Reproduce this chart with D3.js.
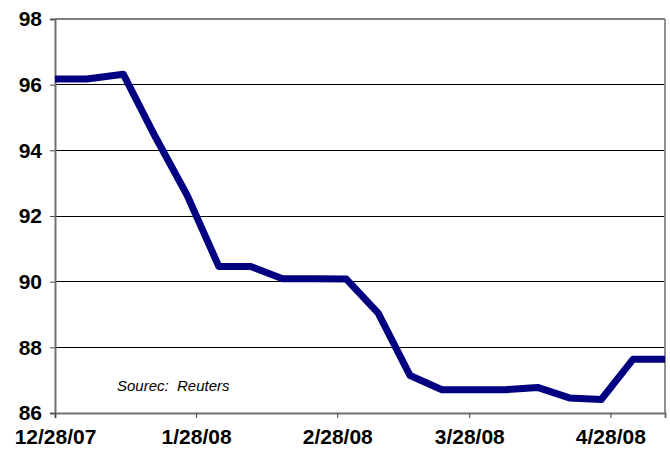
<!DOCTYPE html>
<html>
<head>
<meta charset="utf-8">
<script src="https://cdn.jsdelivr.net/npm/d3@7"></script>
<style>
  html, body { margin: 0; padding: 0; background: #fff; }
  svg { display: block; }
</style>
</head>
<body>
<svg id="chart" width="670" height="449"></svg>
<script>
// Weekly readings, 12/28/07 through 5/10/08
const dates = [
  "2007-12-28", "2008-01-04", "2008-01-12", "2008-01-19", "2008-01-26",
  "2008-02-02", "2008-02-09", "2008-02-16", "2008-02-23", "2008-03-01",
  "2008-03-08", "2008-03-15", "2008-03-22", "2008-03-29", "2008-04-05",
  "2008-04-12", "2008-04-19", "2008-04-26", "2008-05-03", "2008-05-10"
];
const values = [
  96.17, 96.17, 96.32, 94.42, 92.64,
  90.46, 90.46, 90.09, 90.09, 90.08,
  89.04, 87.14, 86.71, 86.71, 86.71,
  86.78, 86.46, 86.41, 87.64, 87.64
];
const yTicks = [86, 88, 90, 92, 94, 96, 98];
const xTickDates = ["2007-12-28", "2008-01-28", "2008-02-28", "2008-03-28", "2008-04-28"];
const sourceNote = "Sourec:  Reuters";

const parse = d3.timeParse("%Y-%m-%d");
const fmt = d3.timeFormat("%-m/%-d/%y");
const data = dates.map((d, i) => ({ date: parse(d), value: values[i] }));

const svg = d3.select("#chart");
const margin = { left: 55, right: 5, top: 19, bottom: 36 };
const W = 670, H = 449;

const x = d3.scaleTime()
  .domain([parse(dates[0]), parse(dates[dates.length - 1])])
  .range([margin.left, W - margin.right]);
const y = d3.scaleLinear()
  .domain([86, 98])
  .range([H - margin.bottom, margin.top]);

const fontFam = "'Liberation Sans', Arial, Helvetica, sans-serif";

// horizontal gridlines
svg.append("g")
  .selectAll("line")
  .data(yTicks.filter(t => t !== 86 && t !== 98))
  .join("line")
  .attr("x1", margin.left).attr("x2", W - margin.right)
  .attr("y1", d => y(d)).attr("y2", d => y(d))
  .attr("stroke", "#000").attr("stroke-width", 1)
  .attr("shape-rendering", "crispEdges");

// plot frame: top and right edges
svg.append("line")
  .attr("x1", margin.left).attr("x2", W - margin.right)
  .attr("y1", y(98)).attr("y2", y(98))
  .attr("stroke", "#808080").attr("stroke-width", 2);
svg.append("line")
  .attr("x1", W - margin.right).attr("x2", W - margin.right)
  .attr("y1", y(98)).attr("y2", y(86))
  .attr("stroke", "#909090").attr("stroke-width", 2);

// y axis
const yAxis = svg.append("g")
  .attr("transform", `translate(${margin.left},0)`)
  .call(d3.axisLeft(y).tickValues(yTicks).tickSize(5).tickPadding(8).tickFormat(d3.format("d")));
yAxis.select(".domain").attr("stroke", "#707070").attr("stroke-width", 2);
yAxis.selectAll(".tick line").attr("stroke", "#444");
yAxis.selectAll("text")
  .attr("font-family", fontFam).attr("font-weight", "bold")
  .attr("font-size", 21).attr("fill", "#000");

// x axis
const xAxis = svg.append("g")
  .attr("transform", `translate(0,${y(86)})`)
  .call(d3.axisBottom(x)
    .tickValues(xTickDates.map(parse))
    .tickSize(5).tickPadding(11)
    .tickFormat(fmt));
xAxis.select(".domain").attr("stroke", "#707070").attr("stroke-width", 2);
xAxis.selectAll(".tick line").attr("stroke", "#444");
xAxis.selectAll("text")
  .attr("font-family", fontFam).attr("font-weight", "bold")
  .attr("font-size", 21).attr("fill", "#000");

// series line
const line = d3.line()
  .x(d => x(d.date))
  .y(d => y(d.value));
svg.append("path")
  .datum(data)
  .attr("d", line)
  .attr("fill", "none")
  .attr("stroke", "#000080")
  .attr("stroke-width", 7)
  .attr("stroke-linejoin", "round");

// source note
svg.append("text")
  .attr("x", 117).attr("y", 391)
  .attr("font-family", fontFam).attr("font-style", "italic")
  .attr("font-size", 15).attr("fill", "#000")
  .attr("xml:space", "preserve")
  .style("white-space", "pre")
  .text(sourceNote);
</script>
</body>
</html>
